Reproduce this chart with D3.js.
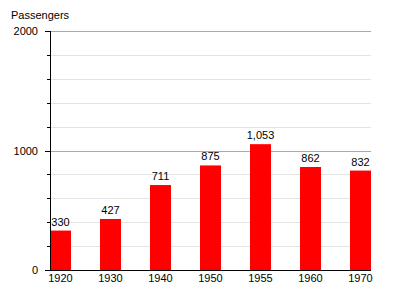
<!DOCTYPE html>
<html>
<head>
    <meta charset="utf-8">
    <script src="https://d3js.org/d3.v7.min.js"></script>
    <style>
        body { margin: 0; background: #fff; }
        text { font-family: "Liberation Sans", Arial, sans-serif; font-size: 11px; fill: #000; }
    </style>
</head>
<body>
    <script>
        var years = ["1920", "1930", "1940", "1950", "1955", "1960", "1970"];
        var passengers = [330, 427, 711, 875, 1053, 862, 832];
        var majorTicks = [0, 1000, 2000];
        var minorTicks = [200, 400, 600, 800, 1200, 1400, 1600, 1800];

        var width = 400, height = 300;
        // plot area edges (note: "top" is reserved on window)
        var plotLeft = 50, plotRight = 371, plotTop = 31, plotBottom = 270;

        var svg = d3.select("body").append("svg")
            .attr("width", width)
            .attr("height", height);

        var x = d3.scaleBand()
            .domain(years)
            .range([plotLeft, plotRight])
            .paddingInner(0.58)
            .paddingOuter(0)
            .align(0);

        var y = d3.scaleLinear()
            .domain([0, 2000])
            .range([plotBottom, plotTop]);

        function py(d) { return Math.round(y(d)) + 0.5; }

        // minor grid
        svg.selectAll("line.minor")
            .data(minorTicks)
            .enter().append("line")
            .attr("class", "minor")
            .attr("x1", plotLeft).attr("x2", plotRight)
            .attr("y1", py).attr("y2", py)
            .attr("stroke", "#e4e4e4");

        // major grid
        svg.selectAll("line.major")
            .data(majorTicks.filter(function (d) { return d > 0; }))
            .enter().append("line")
            .attr("class", "major")
            .attr("x1", plotLeft).attr("x2", plotRight)
            .attr("y1", py).attr("y2", py)
            .attr("stroke", "#aaaaaa");

        // bars
        svg.selectAll("rect")
            .data(passengers)
            .enter().append("rect")
            .attr("x", function (d, i) { return x(years[i]); })
            .attr("y", function (d) { return y(d); })
            .attr("width", x.bandwidth())
            .attr("height", function (d) { return plotBottom - y(d); })
            .attr("fill", "#ff0000");

        // value labels
        svg.selectAll("text.val")
            .data(passengers)
            .enter().append("text")
            .attr("class", "val")
            .attr("x", function (d, i) { return x(years[i]) + x.bandwidth() / 2; })
            .attr("y", function (d) { return y(d) - 5; })
            .attr("text-anchor", "middle")
            .text(function (d) { return d3.format(",")(d); });

        // y axis line + ticks
        svg.append("line")
            .attr("x1", plotLeft + 0.5).attr("x2", plotLeft + 0.5)
            .attr("y1", plotTop).attr("y2", plotBottom)
            .attr("stroke", "#000");

        svg.selectAll("line.ymaj")
            .data(majorTicks)
            .enter().append("line")
            .attr("class", "ymaj")
            .attr("x1", plotLeft - 5).attr("x2", plotLeft)
            .attr("y1", py).attr("y2", py)
            .attr("stroke", "#000");

        svg.selectAll("line.ymin")
            .data(minorTicks)
            .enter().append("line")
            .attr("class", "ymin")
            .attr("x1", plotLeft - 3).attr("x2", plotLeft)
            .attr("y1", py).attr("y2", py)
            .attr("stroke", "#000");

        svg.selectAll("text.ylab")
            .data(majorTicks)
            .enter().append("text")
            .attr("class", "ylab")
            .attr("x", 38)
            .attr("y", function (d) { return y(d) + 4; })
            .attr("text-anchor", "end")
            .text(function (d) { return d; });

        // x axis line
        svg.append("line")
            .attr("x1", plotLeft - 5).attr("x2", plotRight)
            .attr("y1", plotBottom + 0.5).attr("y2", plotBottom + 0.5)
            .attr("stroke", "#000");

        svg.selectAll("text.xlab")
            .data(years)
            .enter().append("text")
            .attr("class", "xlab")
            .attr("x", function (d) { return x(d) + x.bandwidth() / 2; })
            .attr("y", 282)
            .attr("text-anchor", "middle")
            .text(function (d) { return d; });

        svg.append("text")
            .attr("x", 11)
            .attr("y", 19)
            .text("Passengers");
    </script>
</body>
</html>
